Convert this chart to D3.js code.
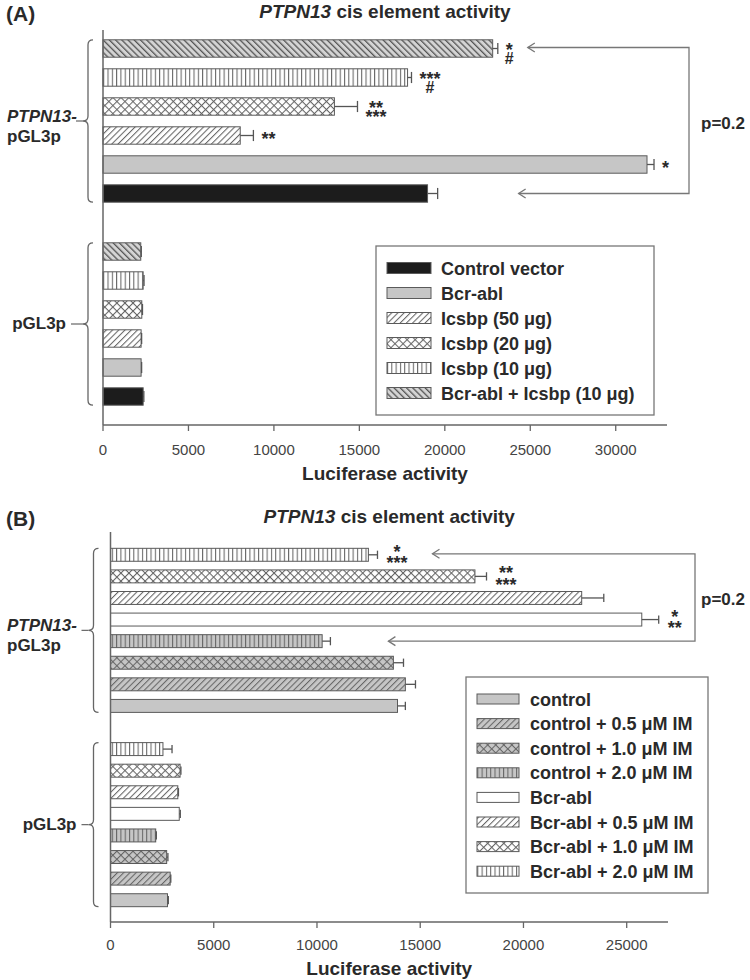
<!DOCTYPE html>
<html>
<head>
<meta charset="utf-8">
<script src="https://cdn.jsdelivr.net/npm/d3@7"></script>
<style>
  body { margin: 0; background: #fff; }
  svg text { font-family: "Liberation Sans", Arial, sans-serif; fill: #2a2a2a; }
</style>
</head>
<body>
<div class="visContainer"></div>
<script>
// Panel A data.
const seriesA = ['Control vector', 'Bcr-abl', 'Icsbp (50 \u03bcg)', 'Icsbp (20 \u03bcg)', 'Icsbp (10 \u03bcg)', 'Bcr-abl + Icsbp (10 \u03bcg)'];
const patternsA = ['black', 'gray', 'diag', 'cross', 'vert', 'bdiag'];
const ptpnA = [18990, 31830, 8030, 13540, 17820, 22800];
const ptpnErrA = [590, 410, 770, 1350, 230, 300];
const pglA = [2350, 2230, 2230, 2270, 2350, 2210];
const pglErrA = [40, 30, 30, 40, 50, 30];
const starsA = [[], ['*'], ['**'], ['**', '***'], ['***', '#'], ['*', '#']];
const ticksA = [0, 5000, 10000, 15000, 20000, 25000, 30000];

// Panel B data.
const seriesB = ['control', 'control + 0.5 \u03bcM IM', 'control + 1.0 \u03bcM IM', 'control + 2.0 \u03bcM IM',
                 'Bcr-abl', 'Bcr-abl + 0.5 \u03bcM IM', 'Bcr-abl + 1.0 \u03bcM IM', 'Bcr-abl + 2.0 \u03bcM IM'];
const patternsB = ['gray', 'grayDiag', 'grayCross', 'grayVert', 'white', 'diag', 'cross', 'vert'];
const ptpnB = [13900, 14280, 13700, 10250, 25730, 22820, 17650, 12490];
const ptpnErrB = [380, 490, 490, 400, 820, 1070, 560, 440];
const pglB = [2760, 2890, 2720, 2190, 3330, 3260, 3370, 2540];
const pglErrB = [40, 30, 60, 30, 50, 30, 40, 440];
const starsB = [[], [], [], [], ['*', '**'], [], ['**', '***'], ['*', '***']];
const ticksB = [0, 5000, 10000, 15000, 20000, 25000];

const groupLabels = ['PTPN13-', 'pGL3p'];
const pLabel = 'p=0.2';

const svg = d3.select('.visContainer')
              .append('svg')
              .attr('width', 750)
              .attr('height', 980);

// Patterns.
const defs = svg.append('defs');
const LINE = '#666';
const GRAY = '#c6c6c6';

function addPattern(id, bg, type) {
    const size = type === 'cross' ? 5.7 : type === 'vert' ? 4.3 : 4.4;
    const rot = type === 'diag' ? 45 : type === 'bdiag' ? -45 : type === 'cross' ? 45 : 0;
    const p = defs.append('pattern')
                  .attr('id', id)
                  .attr('patternUnits', 'userSpaceOnUse')
                  .attr('width', size)
                  .attr('height', size)
                  .attr('patternTransform', 'rotate(' + rot + ')');
    p.append('rect').attr('width', size).attr('height', size).attr('fill', bg);
    p.append('line')
     .attr('x1', 0.5).attr('y1', 0).attr('x2', 0.5).attr('y2', size)
     .attr('stroke', type === 'bdiag' ? '#555' : LINE)
     .attr('stroke-width', type === 'bdiag' ? 1.6 : 1.1);
    if (type === 'cross') {
        p.append('line')
         .attr('x1', 0).attr('y1', 0.5).attr('x2', size).attr('y2', 0.5)
         .attr('stroke', LINE)
         .attr('stroke-width', 1.1);
    }
}
addPattern('diag', '#fff', 'diag');
addPattern('cross', '#fff', 'cross');
addPattern('vert', '#fff', 'vert');
addPattern('bdiag', '#d4d4d4', 'bdiag');
addPattern('grayDiag', GRAY, 'diag');
addPattern('grayCross', GRAY, 'cross');
addPattern('grayVert', GRAY, 'vert');

function fillFor(name) {
    if (name === 'black') return '#1c1c1c';
    if (name === 'gray') return GRAY;
    if (name === 'white') return '#fff';
    return 'url(#' + name + ')';
}

function brace(g, x, top, bottom) {
    const mid = (top + bottom) / 2;
    const r = 5;
    g.append('path')
     .attr('d', 'M' + (x + r) + ',' + top +
                ' Q' + x + ',' + top + ' ' + x + ',' + (top + r) +
                ' L' + x + ',' + (mid - r) +
                ' Q' + x + ',' + mid + ' ' + (x - r) + ',' + mid +
                ' Q' + x + ',' + mid + ' ' + x + ',' + (mid + r) +
                ' L' + x + ',' + (bottom - r) +
                ' Q' + x + ',' + bottom + ' ' + (x + r) + ',' + bottom)
     .attr('fill', 'none')
     .attr('stroke', '#666')
     .attr('stroke-width', 1.3);
    return mid;
}

function drawPanel(o) {
    const n = o.series.length;
    const g = svg.append('g');

    // Rows: PTPN13 group on top, empty slot, pGL3p group below; last series first.
    const rows = [];
    for (let i = n - 1; i >= 0; i--) rows.push({ key: 'P' + i, i: i, value: o.ptpn[i], err: o.ptpnErr[i], stars: o.stars[i] });
    rows.push({ key: 'gap' });
    for (let i = n - 1; i >= 0; i--) rows.push({ key: 'G' + i, i: i, value: o.pgl[i], err: o.pglErr[i], stars: [] });
    const bars = rows.filter((d) => d.key !== 'gap');

    const x = d3.scaleLinear().domain([0, o.max]).range(o.xRange);
    const y = d3.scaleBand()
                .domain(rows.map((d) => d.key))
                .range(o.yRange)
                .paddingInner(0.4)
                .paddingOuter(0.2);
    const bw = y.bandwidth();

    // Bars.
    g.selectAll('rect.bar')
     .data(bars)
     .enter()
     .append('rect')
     .attr('class', 'bar')
     .attr('x', x(0))
     .attr('y', (d) => y(d.key))
     .attr('width', (d) => x(d.value) - x(0))
     .attr('height', bw)
     .attr('fill', (d) => fillFor(o.patterns[d.i]))
     .attr('stroke', '#5a5a5a')
     .attr('stroke-width', 1);

    // Error bars.
    const eb = g.selectAll('g.err')
                .data(bars)
                .enter()
                .append('g')
                .attr('class', 'err')
                .attr('stroke', '#555')
                .attr('stroke-width', 1.3);
    eb.append('line')
      .attr('x1', (d) => x(d.value))
      .attr('x2', (d) => x(d.value + d.err))
      .attr('y1', (d) => y(d.key) + bw / 2)
      .attr('y2', (d) => y(d.key) + bw / 2);
    eb.append('line')
      .attr('x1', (d) => x(d.value + d.err))
      .attr('x2', (d) => x(d.value + d.err))
      .attr('y1', (d) => y(d.key) + bw * 0.18)
      .attr('y2', (d) => y(d.key) + bw * 0.82);

    // Significance marks (one text per bar, stacked lines as tspans).
    bars.filter((d) => d.stars.length).forEach((d) => {
        const cy = y(d.key) + bw / 2;
        const w = d3.max(d.stars, (s) => s.length) * 7;
        const cx = x(d.value + d.err) + o.starGap + w / 2;
        const t = g.append('text')
                   .attr('text-anchor', 'middle')
                   .style('font-size', '18px')
                   .style('font-weight', 'bold');
        d.stars.forEach((s, k) => {
            const base = d.stars.length === 1 ? cy + 9 : cy + o.starLine1 + k * o.starStep;
            t.append('tspan')
             .attr('x', cx)
             .attr('y', s === '#' ? base - 1 : base)
             .style('font-size', s === '#' ? '16px' : '18px')
             .text(s);
        });
    });

    // Axes.
    g.append('line')
     .attr('x1', x(0)).attr('x2', x(0))
     .attr('y1', o.yAxis[0]).attr('y2', o.yAxis[1])
     .attr('stroke', '#666').attr('stroke-width', 1.5);
    g.append('line')
     .attr('x1', x(0)).attr('x2', o.xRange[1])
     .attr('y1', o.yAxis[1]).attr('y2', o.yAxis[1])
     .attr('stroke', '#666').attr('stroke-width', 1.5);
    g.selectAll('line.tick')
     .data(o.ticks)
     .enter()
     .append('line')
     .attr('class', 'tick')
     .attr('x1', (d) => x(d)).attr('x2', (d) => x(d))
     .attr('y1', o.yAxis[1]).attr('y2', o.yAxis[1] + 6)
     .attr('stroke', '#666').attr('stroke-width', 1.3);
    g.selectAll('text.tick')
     .data(o.ticks)
     .enter()
     .append('text')
     .attr('class', 'tick')
     .attr('x', (d) => x(d))
     .attr('y', o.yAxis[1] + o.tickDy)
     .attr('text-anchor', 'middle')
     .style('font-size', '15px')
     .style('fill', '#444')
     .text((d) => d);
    const cxAxis = (o.xRange[0] + o.xRange[1]) / 2;
    g.append('text')
     .attr('x', cxAxis)
     .attr('y', o.yAxis[1] + o.titleDy)
     .attr('text-anchor', 'middle')
     .style('font-size', '19px')
     .style('font-weight', 'bold')
     .text('Luciferase activity');

    // Title and panel letter.
    const title = g.append('text')
                   .attr('x', cxAxis)
                   .attr('y', o.titleY)
                   .attr('text-anchor', 'middle')
                   .style('font-size', '19px')
                   .style('font-weight', 'bold');
    title.append('tspan').style('font-style', 'italic').text('PTPN13');
    title.append('tspan').text(' cis element activity');
    g.append('text')
     .attr('x', 6)
     .attr('y', o.titleY + 3)
     .style('font-size', '21px')
     .style('font-weight', 'bold')
     .text(o.letter);

    // Group braces.
    const bx = x(0) - o.braceGap;
    const topP = y('P' + (n - 1)), botP = y('P0') + bw;
    const midP = brace(g, bx, topP, botP);
    g.append('line')
     .attr('x1', bx - 12).attr('x2', bx - 5)
     .attr('y1', midP).attr('y2', midP)
     .attr('stroke', '#666').attr('stroke-width', 1.2);
    const lab = g.append('text')
                 .attr('x', 7)
                 .attr('y', midP + 1)
                 .style('font-size', '17px')
                 .style('font-weight', 'bold');
    lab.append('tspan').style('font-style', 'italic').text(groupLabels[0]);
    g.append('text')
     .attr('x', 7)
     .attr('y', midP + 21)
     .style('font-size', '17px')
     .style('font-weight', 'bold')
     .text(groupLabels[1]);

    const topG = y('G' + (n - 1)), botG = y('G0') + bw;
    const midG = brace(g, bx, topG, botG);
    g.append('line')
     .attr('x1', bx - o.pglGap + 5).attr('x2', bx - 5)
     .attr('y1', midG).attr('y2', midG)
     .attr('stroke', '#666').attr('stroke-width', 1.2);
    g.append('text')
     .attr('x', bx - o.pglGap)
     .attr('y', midG + 5)
     .attr('text-anchor', 'end')
     .style('font-size', '17px')
     .style('font-weight', 'bold')
     .text(groupLabels[1]);

    // Comparison bracket with arrows.
    const a = bars.find((d) => d.key === 'P' + o.arrow.from);
    const b = bars.find((d) => d.key === 'P' + o.arrow.to);
    const ay = y(a.key) + bw / 2 - 1;
    const by = y(b.key) + bw / 2;
    const ax = x(a.value + a.err) + o.arrow.gapFrom;
    const bxx = x(b.value + b.err) + o.arrow.gapTo;
    g.append('path')
     .attr('d', 'M' + ax + ',' + ay + ' H' + o.arrow.right + ' V' + by + ' H' + bxx)
     .attr('fill', 'none')
     .attr('stroke', '#777')
     .attr('stroke-width', 1.3);
    [[ax, ay], [bxx, by]].forEach((p) => {
        g.append('path')
         .attr('d', 'M' + (p[0] + 7) + ',' + (p[1] - 4.5) + ' L' + p[0] + ',' + p[1] + ' L' + (p[0] + 7) + ',' + (p[1] + 4.5))
         .attr('fill', 'none')
         .attr('stroke', '#777')
         .attr('stroke-width', 1.3);
    });
    g.append('text')
     .attr('x', o.arrow.right + o.arrow.pGap)
     .attr('y', (ay + by) / 2 + 8)
     .style('font-size', '17px')
     .style('font-weight', 'bold')
     .text(pLabel);

    // Legend.
    const L = o.legend;
    g.append('rect')
     .attr('x', L.x).attr('y', L.y)
     .attr('width', L.w).attr('height', L.h)
     .attr('fill', '#fff')
     .attr('stroke', '#777')
     .attr('stroke-width', 1.3);
    const item = g.selectAll('g.legend-item')
                  .data(o.series)
                  .enter()
                  .append('g')
                  .attr('class', 'legend-item')
                  .attr('transform', (d, i) => 'translate(0,' + (L.first + i * L.step) + ')');
    item.append('rect')
        .attr('x', L.sx)
        .attr('y', -L.sh / 2)
        .attr('width', L.sw)
        .attr('height', L.sh)
        .attr('fill', (d, i) => fillFor(o.patterns[i]))
        .attr('stroke', '#5a5a5a')
        .attr('stroke-width', 1);
    item.append('text')
        .attr('x', L.tx)
        .attr('y', 6.5)
        .style('font-size', '18px')
        .style('font-weight', 'bold')
        .text((d) => d);
}

drawPanel({
    letter: '(A)', series: seriesA, patterns: patternsA,
    ptpn: ptpnA, ptpnErr: ptpnErrA, pgl: pglA, pglErr: pglErrA, stars: starsA, ticks: ticksA,
    max: 33000, xRange: [103, 667], yRange: [34, 411], yAxis: [30, 425],
    tickDy: 30, titleDy: 55, titleY: 18, braceGap: 15, pglGap: 22,
    starGap: 8, starLine1: 7, starStep: 9,
    arrow: { from: 5, to: 0, gapFrom: 30, gapTo: 81, right: 689, pGap: 12 },
    legend: { x: 376, y: 246, w: 278, h: 169, first: 268, step: 25, sx: 387, sw: 44, sh: 11, tx: 441 }
});

drawPanel({
    letter: '(B)', series: seriesB, patterns: patternsB,
    ptpn: ptpnB, ptpnErr: ptpnErrB, pgl: pglB, pglErr: pglErrB, stars: starsB, ticks: ticksB,
    max: 27000, xRange: [110.5, 668], yRange: [544, 911], yAxis: [532, 922],
    tickDy: 28, titleDy: 53, titleY: 523, braceGap: 17, pglGap: 17,
    starGap: 9, starLine1: 3, starStep: 11.5,
    arrow: { from: 7, to: 3, gapFrom: 55, gapTo: 58, right: 695, pGap: 6 },
    legend: { x: 466, y: 677, w: 242, h: 216, first: 699, step: 24.6, sx: 477, sw: 42, sh: 10, tx: 530 }
});
</script>
</body>
</html>
